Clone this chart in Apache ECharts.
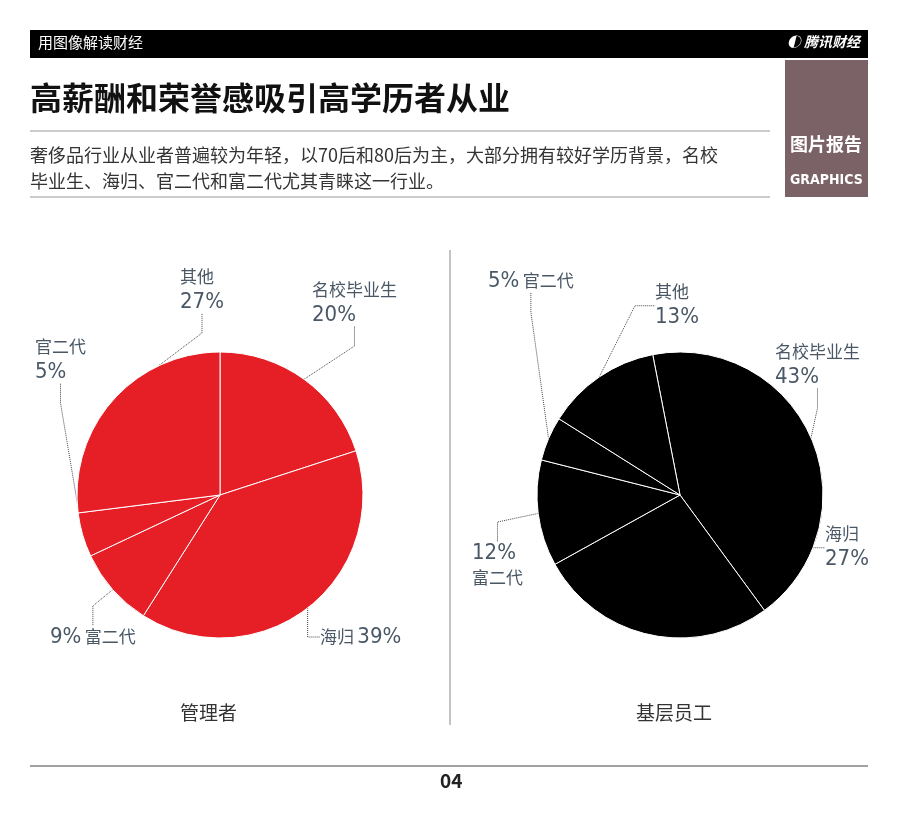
<!DOCTYPE html>
<html><head><meta charset="utf-8">
<script src="https://cdn.jsdelivr.net/npm/echarts@6/dist/echarts.min.js"></script>
<style>body{margin:0}#c{width:900px;height:820px}</style></head>
<body><div id="c"></div>
<script>
const categories=['名校毕业生','海归','富二代','官二代','其他'];
const managerValues=[20,39,9,5,27];
const staffValues=[43,27,12,5,13];
const pieTitles=['管理者','基层员工'];
// label styles: 0 = name above value, 1 = value then name, 2 = name then value, 3 = value above name
const managerFmt=[0,2,1,0,0];
const staffFmt=[0,0,3,1,0];
const managerPos=[[312,278],[320,624],[50,624],[35,335],[180,265]];
const staffPos=[[775,340],[825,522],[472,540],[488,268],[655,280]];
const F='"Noto Sans CJK SC", "Noto Sans", sans-serif';
const NF='"DejaVu Sans Condensed", sans-serif';
const chart=echarts.init(document.getElementById('c'));
const fmts=[p=>'{n|'+p.name+'}\n{v|'+p.value+'%}',p=>'{v|'+p.value+'%} {n|'+p.name+'}',p=>'{n|'+p.name+'} {v|'+p.value+'%}',p=>'{v|'+p.value+'%}\n{n|'+p.name+'}'];
function mk(vals,f){return categories.map((n,i)=>({name:n,value:vals[i],label:{formatter:fmts[f[i]]}}));}
const lbl={show:true,position:'outside',overflow:'none',
 rich:{n:{fontFamily:F,fontSize:17,color:'#4a5866',lineHeight:24},v:{fontFamily:NF,fontSize:22,color:'#4a5866',lineHeight:26,fontWeight:300}}};
const ll={show:true,length:15,length2:20,lineStyle:{type:'dotted',color:'#444',width:1}};
function lay(pos){return p=>({x:pos[p.dataIndex][0],y:pos[p.dataIndex][1],align:'left',verticalAlign:'top'});}
chart.setOption({
 animation:false,
 graphic:[
  {type:'rect',shape:{x:30,y:30,width:838,height:28},style:{fill:'#000'}},
  {type:'text',left:38,top:35,style:{text:'用图像解读财经',fill:'#fff',font:'15px '+F}},
  {type:'text',right:40,top:35,style:{text:'◐ 腾讯财经',fill:'#fff',font:'bold italic 14px '+F}},
  {type:'text',left:30,top:82,style:{text:'高薪酬和荣誉感吸引高学历者从业',fill:'#111',font:'bold 32px '+F}},
  {type:'line',shape:{x1:30,y1:131,x2:770,y2:131},style:{stroke:'#999',lineWidth:1}},
  {type:'text',left:30,top:142,style:{text:'奢侈品行业从业者普遍较为年轻，以70后和80后为主，大部分拥有较好学历背景，名校\n毕业生、海归、官二代和富二代尤其青睐这一行业。',fill:'#333',font:'18px '+F,lineHeight:26}},
  {type:'line',shape:{x1:30,y1:197,x2:770,y2:197},style:{stroke:'#999',lineWidth:1}},
  {type:'rect',shape:{x:785,y:60,width:83,height:137},style:{fill:'#7b6266'}},
  {type:'text',left:790,top:135,style:{text:'图片报告',fill:'#fff',font:'bold 18px '+F}},
  {type:'text',left:790,top:173,style:{text:'GRAPHICS',fill:'#fff',font:'bold 14px '+NF}},
  {type:'line',shape:{x1:450,y1:250,x2:450,y2:725},style:{stroke:'#888',lineWidth:1}},
  {type:'text',left:180,top:703,style:{text:pieTitles[0],fill:'#333',font:'19px '+F}},
  {type:'text',left:636,top:703,style:{text:pieTitles[1],fill:'#333',font:'19px '+F}},
  {type:'line',shape:{x1:30,y1:766,x2:868,y2:766},style:{stroke:'#444',lineWidth:1}},
  {type:'text',left:440,top:771,style:{text:'04',fill:'#222',font:'bold 19px '+F}}
 ],
 series:[
  {type:'pie',center:[220,495],radius:[0,143],startAngle:90,clockwise:true,data:mk(managerValues,managerFmt),
   itemStyle:{color:'#e61e25',borderColor:'#fff',borderWidth:1},label:lbl,labelLine:ll,labelLayout:lay(managerPos)},
  {type:'pie',center:[680,495],radius:[0,143],startAngle:101,clockwise:true,data:mk(staffValues,staffFmt),
   itemStyle:{color:'#000',borderColor:'#fff',borderWidth:1},label:lbl,labelLine:ll,labelLayout:lay(staffPos)}
 ]
});
</script></body></html>
